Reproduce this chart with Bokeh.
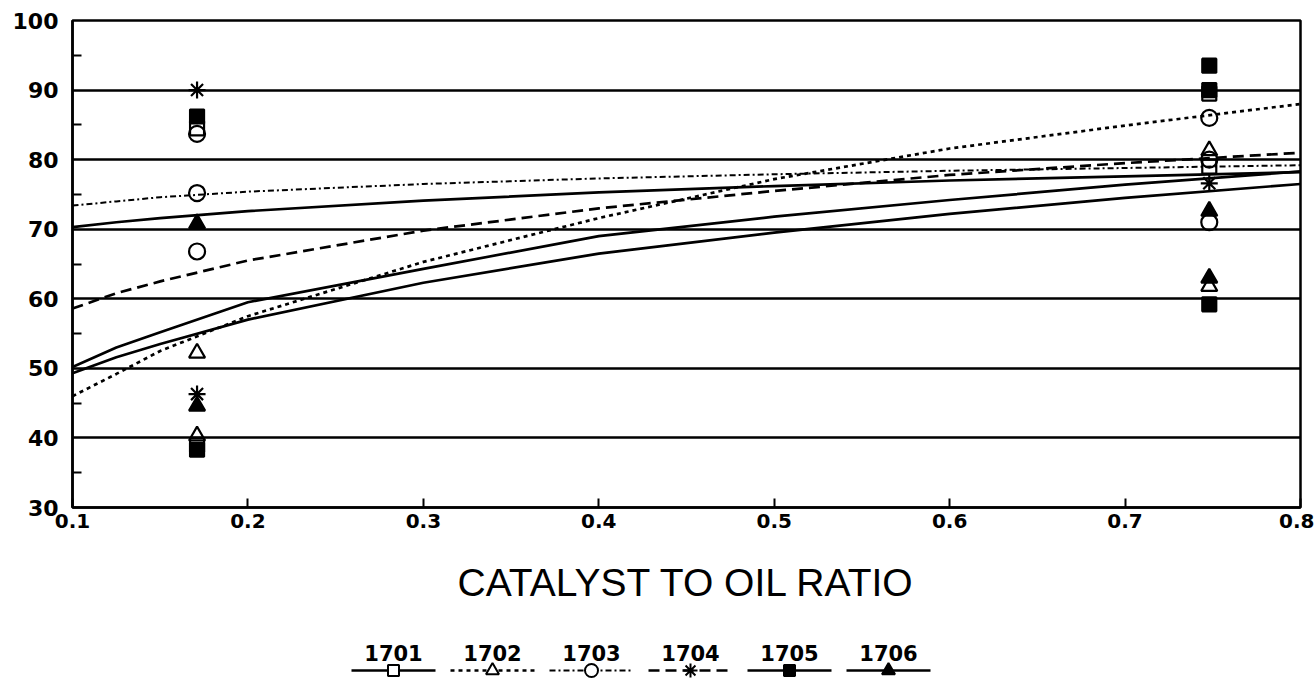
from bokeh.plotting import figure
from bokeh.layouts import column
from bokeh.models import FixedTicker, Range1d
from bokeh.core.properties import value
from bokeh.embed import file_html
from bokeh.resources import INLINE

# ---------------- data ----------------
series_names = ["1701", "1702", "1703", "1704", "1705", "1706"]

curve_x = [0.1, 0.125, 0.15, 0.2, 0.3, 0.4, 0.5, 0.6, 0.7, 0.8]
fit_1701 = [49.3, 51.6, 53.5, 57.0, 62.3, 66.5, 69.5, 72.2, 74.5, 76.5]
fit_1702 = [46.0, 49.2, 52.5, 57.5, 65.3, 71.6, 77.2, 81.6, 84.9, 88.0]
fit_1703 = [73.4, 74.0, 74.6, 75.4, 76.5, 77.3, 77.9, 78.4, 78.8, 79.2]
fit_1704 = [58.6, 60.8, 62.5, 65.5, 69.8, 73.0, 75.5, 77.8, 79.5, 81.0]
fit_1705 = [50.2, 53.0, 55.2, 59.5, 64.3, 69.0, 71.8, 74.2, 76.4, 78.3]
fit_1706 = [70.3, 71.0, 71.6, 72.6, 74.1, 75.3, 76.2, 77.0, 77.6, 78.2]

x_low = 0.171
x_high = 0.748
pts_1701_x = [x_low, x_low, x_high, x_high]
pts_1701_y = [84.5, 39.0, 89.5, 79.0]
pts_1702_x = [x_low, x_low, x_high, x_high]
pts_1702_y = [52.2, 40.3, 81.3, 61.8]
pts_1703_x = [x_low, x_low, x_low, x_high, x_high, x_high]
pts_1703_y = [83.7, 75.2, 66.8, 86.0, 80.0, 71.0]
pts_1704_x = [x_low, x_low, x_high]
pts_1704_y = [90.0, 46.3, 76.6]
pts_1705_x = [x_low, x_low, x_high, x_high, x_high]
pts_1705_y = [86.2, 38.3, 93.5, 90.0, 59.2]
pts_1706_x = [x_low, x_low, x_high, x_high]
pts_1706_y = [70.8, 44.6, 72.6, 63.0]

x_ticks = [0.1, 0.2, 0.3, 0.4, 0.5, 0.6, 0.7, 0.8]
y_ticks = [30, 40, 50, 60, 70, 80, 90, 100]
y_minor = [35, 45, 55, 65, 75, 85, 95]
x_title = "CATALYST TO OIL RATIO"

fits = [fit_1701, fit_1702, fit_1703, fit_1704, fit_1705, fit_1706]
pts = [(pts_1701_x, pts_1701_y), (pts_1702_x, pts_1702_y), (pts_1703_x, pts_1703_y),
       (pts_1704_x, pts_1704_y), (pts_1705_x, pts_1705_y), (pts_1706_x, pts_1706_y)]

# ---------------- styles ----------------
styles = [
    dict(dash="solid", width=2.7, marker="square", fill=None, size=14),
    dict(dash="4 4", width=2.7, marker="triangle", fill=None, size=16),
    dict(dash="6 3 2 3", width=2.0, marker="circle", fill=None, size=16),
    dict(dash="11 6", width=2.7, marker="asterisk", fill=None, size=17),
    dict(dash="solid", width=2.7, marker="square", fill="black", size=14),
    dict(dash="solid", width=2.7, marker="triangle", fill="black", size=16),
]

FONT_TICK = "DejaVu Sans"
FONT_TITLE = "Liberation Sans"

W = 1314
FRAME_L = 72
FRAME_R = 1300
MAIN_H = 608
LEG_H = 73

p = figure(width=W, height=MAIN_H, x_range=Range1d(0.1, 0.8), y_range=Range1d(30, 100),
           toolbar_location=None, output_backend="svg", title=None,
           min_border_left=FRAME_L, min_border_right=W - FRAME_R,
           min_border_top=20, min_border_bottom=101)
p.background_fill_color = "white"
p.border_fill_color = "white"
p.outline_line_color = "black"
p.outline_line_width = 2.5

p.xgrid.visible = False
p.ygrid.grid_line_color = "black"
p.ygrid.grid_line_width = 2.3
p.yaxis.ticker = FixedTicker(ticks=y_ticks, minor_ticks=y_minor)
p.xaxis.ticker = FixedTicker(ticks=x_ticks)

for ax in (p.xaxis, p.yaxis):
    ax.axis_line_color = "black"
    ax.axis_line_width = 2.5
    ax.major_tick_line_color = "black"
    ax.major_tick_line_width = 2
    ax.minor_tick_line_color = "black"
    ax.minor_tick_line_width = 2
    ax.major_label_text_font = FONT_TICK
    ax.major_label_text_font_style = "bold"
    ax.major_label_text_color = "black"

p.xaxis.major_tick_in = 9
p.xaxis.major_tick_out = 0
p.xaxis.minor_tick_in = 0
p.xaxis.minor_tick_out = 0
p.xaxis.major_label_text_font_size = "20px"
p.xaxis.major_label_standoff = 6
p.xaxis.axis_label = x_title
p.xaxis.axis_label_text_font = FONT_TITLE
p.xaxis.axis_label_text_font_style = "normal"
p.xaxis.axis_label_text_font_size = "39px"
p.xaxis.axis_label_text_color = "black"
p.xaxis.axis_label_standoff = 30

p.yaxis.major_tick_in = 0
p.yaxis.major_tick_out = 0
p.yaxis.minor_tick_in = 9
p.yaxis.minor_tick_out = 0
p.yaxis.major_label_text_font_size = "22px"
p.yaxis.major_label_standoff = 14

for fy, st in zip(fits, styles):
    p.line(curve_x, fy, line_color="black", line_width=st["width"], line_dash=st["dash"])

for (px, py), st in zip(pts, styles):
    p.scatter(px, py, marker=st["marker"], size=st["size"], line_color="black",
              line_width=2.2, fill_color=st["fill"])

# ---------------- legend strip (frame aligned with the main frame; x in page px) ----------------
leg = figure(width=W, height=LEG_H, x_range=Range1d(FRAME_L, FRAME_R), y_range=Range1d(LEG_H, 0),
             toolbar_location=None, output_backend="svg", title=None,
             x_axis_type=None, y_axis_type=None, min_border=0,
             min_border_left=FRAME_L, min_border_right=W - FRAME_R)
leg.outline_line_color = None
leg.grid.visible = False
leg.background_fill_color = "white"
leg.border_fill_color = "white"

start_x = 393
step_x = 99
label_y = 44
line_y = 62
half = 42
centers = [start_x + i * step_x for i in range(len(series_names))]

leg.text(x=centers, y=[label_y] * len(centers), text=series_names,
         text_font=value(FONT_TICK), text_font_style="bold", text_font_size="21px",
         text_align="center", text_baseline="middle", text_color="black")
for c, st in zip(centers, styles):
    leg.line([c - half, c + half], [line_y, line_y], line_color="black",
             line_width=st["width"], line_dash=st["dash"])
    leg.scatter([c], [line_y], marker=st["marker"], size=st["size"] - 3,
                line_color="black", line_width=2,
                fill_color=("white" if st["fill"] is None else st["fill"]))

layout = column(p, leg, spacing=0)
open("out.html", "w").write(file_html(layout, INLINE))
